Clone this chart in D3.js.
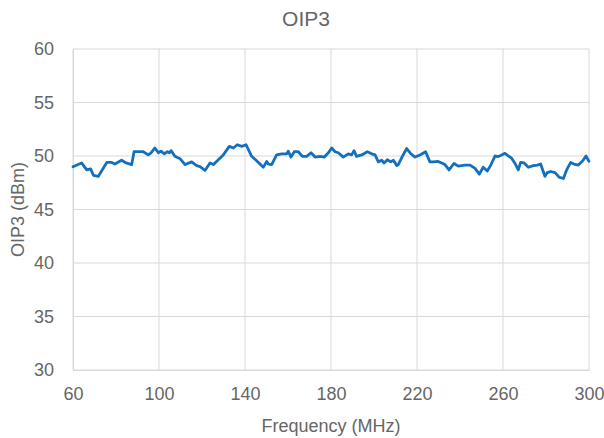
<!DOCTYPE html>
<html>
<head>
<meta charset="utf-8">
<script src="https://cdn.jsdelivr.net/npm/d3@7"></script>
<style>
  html, body { margin: 0; padding: 0; background: #fff; }
  svg { display: block; }
  text { font-family: "Liberation Sans", "DejaVu Sans", sans-serif; }
</style>
</head>
<body>
<svg id="chart" width="604" height="438"></svg>
<script>
// Data
const frequency = [60, 64, 66.4, 68.2, 69.5, 71.8, 73.3, 75.7, 78, 79.5, 82.6, 84.7, 87.3, 88.4, 90.4,
  92.7, 95, 96.3, 98.1, 99.7, 100.9, 102.5, 103.9, 104.8, 105.6, 107.4, 109.8, 112.1, 115.2, 117.5, 119.1,
  121.4, 123.7, 125.3, 127.6, 129.9, 132.7, 134.6, 136.4, 138.5, 140.5, 143.1, 145.4, 148.5, 150.1,
  150.8, 152.4, 154.7, 157.1, 159.4, 160.1, 161.4, 162.9, 164.8, 166.7, 168.7, 170.7, 172.6, 174.9, 176.9, 178.8, 180.3,
  181.9, 183.4, 185.7, 188, 189.6, 190.7, 191.9, 194.3, 196.9, 198.9, 200.5, 202, 203.6, 204.7, 206.2, 207.8, 209, 210.6,
  211.3, 213.2, 215.2, 217.2, 219.1, 221.4, 224, 226, 227.6, 229.6, 231.5, 233, 234.9, 237.2, 239.2,
  242.3, 244.7, 247, 249, 250.8, 252.7, 254.3, 256.3, 257.8, 259.4, 260.9, 262.5, 264, 265.6, 267.1, 268.2, 269.8,
  271.8, 274.1, 276, 277.5, 279.5, 280.6, 282.2, 284.2, 286.2, 288.1, 289.6, 291.5, 293, 295, 297.1, 298.6, 300];
const oip3 = [49.0, 49.35, 48.7, 48.8, 48.2, 48.1, 48.6, 49.4, 49.4, 49.25, 49.6, 49.35, 49.2, 50.4, 50.4,
  50.4, 50.1, 50.3, 50.75, 50.3, 50.45, 50.2, 50.4, 50.3, 50.5, 49.97, 49.75, 49.2, 49.45, 49.1, 49.0,
  48.65, 49.35, 49.2, 49.65, 50.1, 50.9, 50.75, 51.05, 50.9, 51.05, 49.97, 49.56, 48.94, 49.5,
  49.25, 49.2, 50.1, 50.2, 50.2, 50.45, 49.9, 50.4, 50.4, 49.97, 49.97, 50.3, 49.9, 49.97, 49.9, 50.3, 50.75,
  50.4, 50.3, 49.9, 50.2, 50.1, 50.5, 49.97, 50.1, 50.4, 50.2, 50.1, 49.45, 49.6, 49.35, 49.65, 49.45, 49.6, 49.1,
  49.2, 49.97, 50.7, 50.2, 49.9, 50.1, 50.4, 49.45, 49.45, 49.5, 49.35, 49.2, 48.7, 49.3, 49.05,
  49.15, 49.15, 48.85, 48.3, 48.95, 48.6, 49.15, 50.0, 49.95, 50.1, 50.25, 50.0, 49.8, 49.3, 48.7, 49.4, 49.35,
  48.95, 49.1, 49.15, 49.25, 48.1, 48.45, 48.55, 48.45, 48.0, 47.9, 48.7, 49.4, 49.25, 49.15, 49.55, 50.0, 49.5];
const xTicks = [60, 100, 140, 180, 220, 260, 300];
const yTicks = [30, 35, 40, 45, 50, 55, 60];
const chartTitle = "OIP3";
const xTitle = "Frequency (MHz)";
const yTitle = "OIP3 (dBm)";

const svg = d3.select("#chart");
const margin = { left: 73, right: 15, top: 49, bottom: 68 };
const W = 604, H = 438;
const x = d3.scaleLinear().domain([60, 300]).range([margin.left, W - margin.right]);
const y = d3.scaleLinear().domain([30, 60]).range([H - margin.bottom, margin.top]);

const textColor = "#666666";
const gridColor = "#d9d9d9";

// gridlines
svg.append("g").selectAll("line.h").data(yTicks).join("line")
  .attr("x1", x(60)).attr("x2", x(300))
  .attr("y1", d => y(d)).attr("y2", d => y(d))
  .attr("stroke", gridColor).attr("stroke-width", 1);
svg.append("g").selectAll("line.v").data(xTicks).join("line")
  .attr("x1", d => x(d)).attr("x2", d => x(d))
  .attr("y1", y(30)).attr("y2", y(60))
  .attr("stroke", gridColor).attr("stroke-width", 1);

// axes
const xAxis = svg.append("g").attr("transform", `translate(0,${y(30)})`)
  .call(d3.axisBottom(x).tickValues(xTicks).tickSize(0).tickPadding(17).tickFormat(d3.format("d")));
const yAxis = svg.append("g").attr("transform", `translate(${x(60)},0)`)
  .call(d3.axisLeft(y).tickValues(yTicks).tickSize(0).tickPadding(19).tickFormat(d3.format("d")));
[xAxis, yAxis].forEach(a => {
  a.select(".domain").attr("stroke", gridColor);
  a.selectAll("text").attr("fill", textColor).style("font-size", "18px")
    .style("font-family", '"Liberation Sans", sans-serif');
});

// line
const line = d3.line().x((d, i) => x(frequency[i])).y(d => y(d));
svg.append("path").datum(oip3)
  .attr("d", line)
  .attr("fill", "none")
  .attr("stroke", "#1470BD")
  .attr("stroke-width", 2.8)
  .attr("stroke-linejoin", "round")
  .attr("stroke-linecap", "round");

// titles
svg.append("text").attr("x", 306).attr("y", 26).attr("text-anchor", "middle")
  .attr("fill", textColor).style("font-size", "21px").text(chartTitle);
svg.append("text").attr("x", (x(60) + x(300)) / 2).attr("y", 432).attr("text-anchor", "middle")
  .attr("fill", textColor).style("font-size", "18px").text(xTitle);
svg.append("text").attr("transform", `translate(24,${(y(30) + y(60)) / 2}) rotate(-90)`)
  .attr("text-anchor", "middle").attr("fill", textColor).style("font-size", "18px").text(yTitle);
</script>
</body>
</html>
